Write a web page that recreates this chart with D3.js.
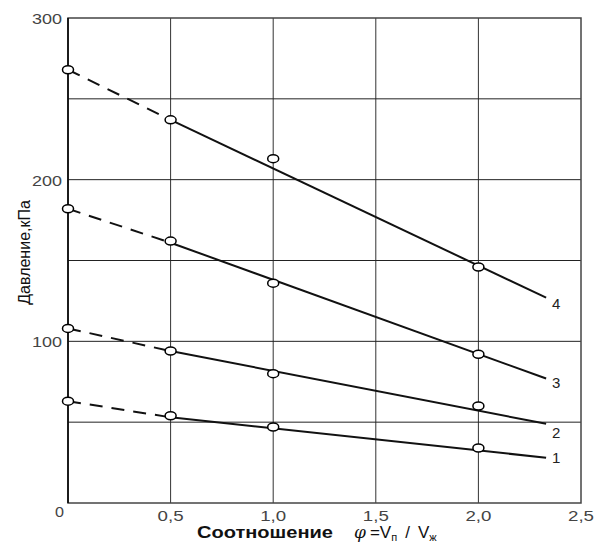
<!DOCTYPE html>
<html>
<head>
<meta charset="utf-8">
<script src="https://cdn.jsdelivr.net/npm/d3@7"></script>
<style>
  body { margin: 0; background: #fff; }
  text { font-family: "Liberation Sans", Arial, sans-serif; }
</style>
</head>
<body>
<div id="chart"></div>
<script>
// Series labels (curve numbers)
const seriesNames = ["1", "2", "3", "4"];

// Measured points (circles)
const markerX = [0, 0.5, 1.0, 2.0];
const markers1 = [63, 54, 47, 34];
const markers2 = [108, 94, 80, 60];
const markers3 = [182, 162, 136, 92];
const markers4 = [268, 237, 213, 146];

// Fitted lines: dashed from 0 to 0.5, solid from 0.5 to end
const fitX = [0, 0.5, 2.33];
const fit1 = [63, 53, 28];
const fit2 = [108, 94, 49];
const fit3 = [182, 161, 77];
const fit4 = [268, 237, 127];

// Axis ticks
const xTicks = [0, 0.5, 1.0, 1.5, 2.0, 2.5];
const xTickLabels = ["0", "0,5", "1,0", "1,5", "2,0", "2,5"];
const yTicks = [100, 200, 300];
const yGrid = [50, 100, 150, 200, 250];

const markerSets = [markers1, markers2, markers3, markers4];
const fitSets = [fit1, fit2, fit3, fit4];
const labelDy = [5, 14, 9, 11]; // label nudges below line ends

const width = 596, height = 542;
const margin = { top: 18, right: 15, bottom: 39, left: 68 };

const x = d3.scaleLinear().domain([0, 2.5]).range([margin.left, width - margin.right]);
const y = d3.scaleLinear().domain([0, 300]).range([height - margin.bottom, margin.top]);

const svg = d3.select("#chart").append("svg")
    .attr("width", width)
    .attr("height", height);

// Grid
svg.append("g")
    .selectAll("line")
    .data(xTicks.slice(1, -1))
    .enter().append("line")
    .attr("x1", d => x(d)).attr("x2", d => x(d))
    .attr("y1", y(0)).attr("y2", y(300))
    .attr("stroke", "#333").attr("stroke-width", 1);

svg.append("g")
    .selectAll("line")
    .data(yGrid)
    .enter().append("line")
    .attr("x1", x(0)).attr("x2", x(2.5))
    .attr("y1", d => y(d)).attr("y2", d => y(d))
    .attr("stroke", "#222").attr("stroke-width", 1);

// Frame
svg.append("rect")
    .attr("x", x(0)).attr("y", y(300))
    .attr("width", x(2.5) - x(0))
    .attr("height", y(0) - y(300))
    .attr("fill", "none")
    .attr("stroke", "#444").attr("stroke-width", 1.5);

svg.append("line")
    .attr("x1", x(0)).attr("x2", x(0))
    .attr("y1", y(0)).attr("y2", y(300))
    .attr("stroke", "#000").attr("stroke-width", 1.5);

// Tick labels (the scan's text is stretched wide)
svg.append("g")
    .selectAll("text")
    .data(yTicks)
    .enter().append("text")
    .attr("x", x(0) - 36)
    .attr("y", d => y(d) + 6)
    .attr("font-size", 15)
    .attr("textLength", 30)
    .attr("lengthAdjust", "spacingAndGlyphs")
    .attr("fill", "#444")
    .text(d => d);

svg.append("g")
    .selectAll("text")
    .data(xTicks)
    .enter().append("text")
    .attr("x", d => x(d) - 13)
    .attr("y", (d, i) => i === 0 ? y(0) + 14 : y(0) + 18)
    .attr("font-size", 14)
    .attr("textLength", (d, i) => i === 0 ? 9 : 26)
    .attr("lengthAdjust", "spacingAndGlyphs")
    .attr("fill", "#444")
    .text((d, i) => xTickLabels[i]);

// Lines
const line = d3.line()
    .x(d => x(d[0]))
    .y(d => y(d[1]));

fitSets.forEach(fit => {
    svg.append("path")
        .datum([[fitX[0], fit[0]], [fitX[1], fit[1]]])
        .attr("fill", "none")
        .attr("stroke", "#111")
        .attr("stroke-width", 2)
        .attr("stroke-dasharray", "13,9")
        .attr("d", line);
    svg.append("path")
        .datum([[fitX[1], fit[1]], [fitX[2], fit[2]]])
        .attr("fill", "none")
        .attr("stroke", "#111")
        .attr("stroke-width", 2)
        .attr("d", line);
});

// Markers
markerSets.forEach(vals => {
    svg.append("g")
        .selectAll("ellipse")
        .data(vals)
        .enter().append("ellipse")
        .attr("cx", (d, i) => x(markerX[i]))
        .attr("cy", d => y(d))
        .attr("rx", 5.5)
        .attr("ry", 4)
        .attr("fill", "#fff")
        .attr("stroke", "#000")
        .attr("stroke-width", 1.5);
});

// Curve numbers
svg.append("g")
    .selectAll("text")
    .data(seriesNames)
    .enter().append("text")
    .attr("x", x(fitX[2]) + 6)
    .attr("y", (d, i) => y(fitSets[i][2]) + labelDy[i])
    .attr("font-size", 15)
    .attr("fill", "#222")
    .text(d => d);

// Axis titles
svg.append("text")
    .attr("transform", `translate(30, ${y(155)}) rotate(-90)`)
    .attr("text-anchor", "middle")
    .attr("font-size", 16)
    .attr("fill", "#111")
    .text("Давление,кПа");

svg.append("text")
    .attr("x", 197)
    .attr("y", 538)
    .attr("font-size", 16)
    .attr("font-weight", "bold")
    .attr("textLength", 136)
    .attr("lengthAdjust", "spacingAndGlyphs")
    .attr("fill", "#111")
    .text("Соотношение");

const xt = svg.append("text")
    .attr("x", 354)
    .attr("y", 538)
    .attr("font-size", 17)
    .attr("fill", "#111");
xt.append("tspan").attr("font-style", "italic").attr("font-family", "DejaVu Serif").text("φ");
xt.append("tspan").attr("dx", 4).text("=V");
xt.append("tspan").attr("font-size", 11).attr("dy", 3).text("п");
xt.append("tspan").attr("dy", -3).attr("dx", 8).text("/");
xt.append("tspan").attr("dx", 8).text("V");
xt.append("tspan").attr("font-size", 11).attr("dy", 3).text("ж");
</script>
</body>
</html>
